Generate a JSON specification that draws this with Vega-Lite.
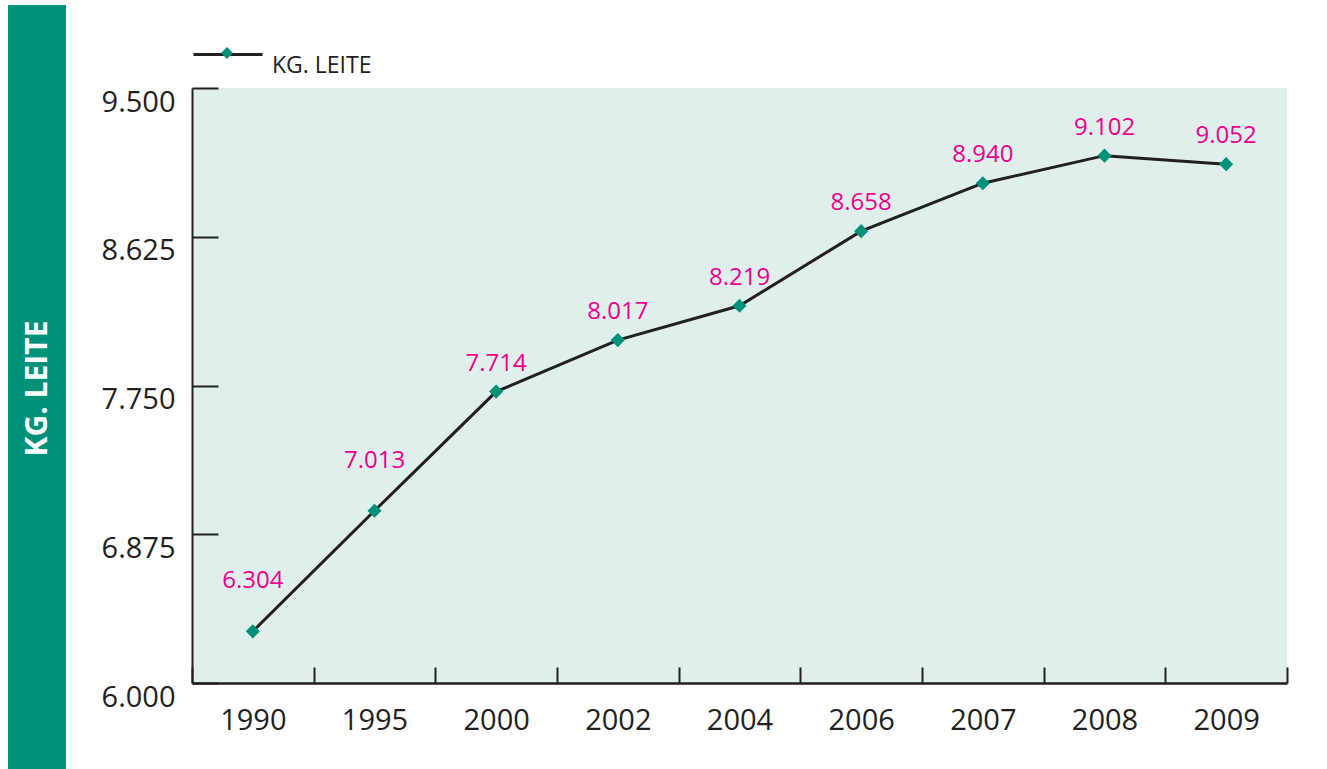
{
  "$schema": "https://vega.github.io/schema/vega-lite/v6.json",
  "background": "white",
  "autosize": {"type": "pad"},
  "padding": {"left": 8, "top": 5, "right": 40, "bottom": 0},
  "config": {
    "locale": {"number": {"decimal": ",", "thousands": ".", "grouping": [3], "currency": ["", " €"]}},
    "view": {"stroke": null},
    "font": "Open Sans"
  },
  "datasets": {
    "leite": [
      {"ano": 1990, "kg": 6304},
      {"ano": 1995, "kg": 7013},
      {"ano": 2000, "kg": 7714},
      {"ano": 2002, "kg": 8017},
      {"ano": 2004, "kg": 8219},
      {"ano": 2006, "kg": 8658},
      {"ano": 2007, "kg": 8940},
      {"ano": 2008, "kg": 9102},
      {"ano": 2009, "kg": 9052}
    ]
  },
  "columns": 2,
  "spacing": 126,
  "bounds": "flush",
  "align": "none",
  "concat": [
    {
      "width": 58,
      "height": 764,
      "data": {"values": []},
      "mark": "point",
      "view": {"fill": "#00917a", "stroke": null}
    },
    {
      "columns": 1,
      "spacing": 82,
      "bounds": "flush",
      "align": "none",
      "concat": [
        {
          "width": 1095,
          "height": 1,
          "data": {"values": []},
          "mark": "point",
          "view": {"stroke": null}
        },
        {
          "width": 1095,
          "height": 595,
          "data": {"name": "leite"},
          "view": {"fill": "#e0efeb", "stroke": null},
          "encoding": {
            "x": {
              "field": "ano",
              "type": "ordinal",
              "sort": null,
              "scale": {"type": "band", "paddingInner": 0, "paddingOuter": 0},
              "axis": {
                "title": null,
                "labelAngle": 0,
                "tickBand": "extent",
                "tickSize": -16,
                "tickWidth": 2,
                "tickColor": "#231f20",
                "domainColor": "#231f20",
                "domainWidth": 2.5,
                "labelFont": "Open Sans",
                "labelFontSize": 29,
                "labelColor": "#231f20",
                "labelPadding": 39
              }
            },
            "y": {
              "field": "kg",
              "type": "quantitative",
              "scale": {"domain": [6000, 9500], "nice": false, "zero": false},
              "axis": {
                "values": [6000, 6875, 7750, 8625, 9500],
                "format": ",d",
                "grid": false,
                "tickSize": -26,
                "tickWidth": 2,
                "tickColor": "#231f20",
                "domainColor": "#231f20",
                "domainWidth": 2,
                "labelFont": "Open Sans",
                "labelFontSize": 29,
                "labelColor": "#231f20",
                "labelBaseline": "top",
                "labelPadding": 43,
                "title": "KG. LEITE",
                "titleFont": "Open Sans",
                "titleFontWeight": "bold",
                "titleFontSize": 30,
                "titleColor": "white",
                "titleAngle": 270,
                "titleX": -155,
                "titleY": 300,
                "titleAlign": "center",
                "titleBaseline": "middle"
              }
            }
          },
          "layer": [
            {
              "mark": {"type": "line", "strokeWidth": 3},
              "encoding": {
                "stroke": {
                  "datum": "KG. LEITE",
                  "scale": {"range": ["#231f20"]},
                  "legend": {
                    "title": null,
                    "orient": "none",
                    "legendX": 184,
                    "legendY": 13.5,
                    "padding": 0,
                    "symbolType": "stroke",
                    "symbolSize": 4761,
                    "symbolStrokeWidth": 3,
                    "labelFont": "Open Sans",
                    "labelFontSize": 23,
                    "labelColor": "#231f20",
                    "labelOffset": 8,
                    "labelBaseline": "top"
                  }
                }
              }
            },
            {
              "mark": {"type": "point", "shape": "diamond", "filled": true, "size": 200, "opacity": 1},
              "encoding": {
                "fill": {
                  "datum": "marcador",
                  "scale": {"range": ["#00917a"]},
                  "legend": {
                    "title": null,
                    "orient": "none",
                    "legendX": 213,
                    "legendY": 42,
                    "padding": 0,
                    "symbolType": "diamond",
                    "symbolSize": 144,
                    "symbolStrokeWidth": 0,
                    "symbolOpacity": 1,
                    "labelExpr": "''"
                  }
                }
              }
            },
            {
              "transform": [{"filter": "datum.ano >= 2000"}],
              "mark": {"type": "text", "font": "Open Sans", "fontSize": 24, "color": "#ec008c", "dy": -28},
              "encoding": {"text": {"field": "kg", "type": "quantitative", "format": ",d"}}
            },
            {
              "transform": [{"filter": "datum.ano < 2000"}],
              "mark": {"type": "text", "font": "Open Sans", "fontSize": 24, "color": "#ec008c", "dy": -50},
              "encoding": {"text": {"field": "kg", "type": "quantitative", "format": ",d"}}
            }
          ]
        }
      ]
    }
  ]
}
